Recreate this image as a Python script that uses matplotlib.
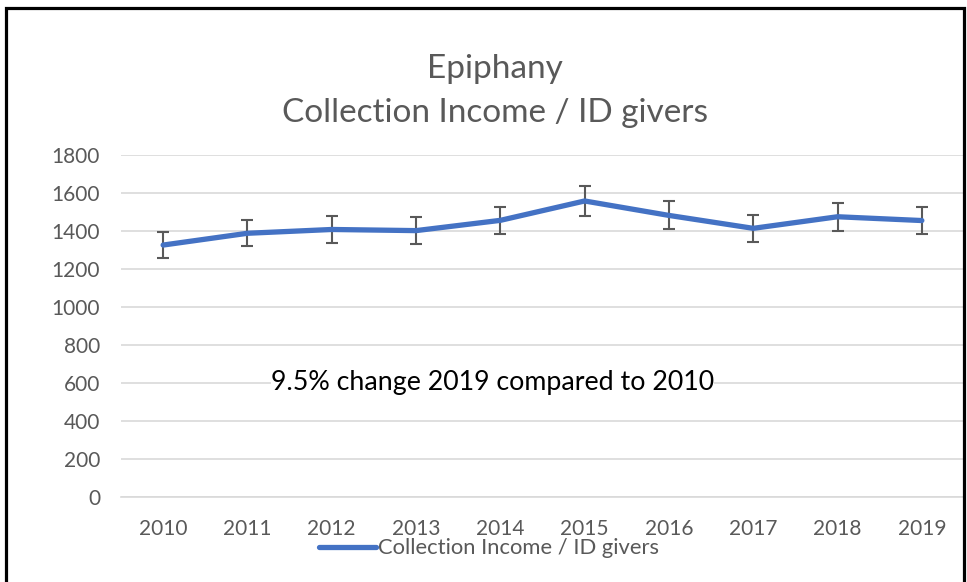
import matplotlib
matplotlib.use("Agg")
from matplotlib import pyplot as plt
from matplotlib.patches import Rectangle
from matplotlib.lines import Line2D

# Epiphany - collection income per identified giver
anos = [2010, 2011, 2012, 2013, 2014, 2015, 2016, 2017, 2018, 2019]
renda_por_doador = [1326, 1388, 1408, 1402, 1456, 1558, 1482, 1414, 1475, 1455]
erro_pct = 0.05
erros = [v * erro_pct for v in renda_por_doador]
serie = 'Collection Income / ID givers'

plt.rcParams['font.family'] = ['Lato', 'DejaVu Sans']
cinza = '#595959'
azul = '#4472C4'

fig = plt.figure(figsize=(9.67, 5.82), dpi=100)
ax = fig.add_axes([0.1251, 0.146, 0.8718, 0.5877])

x = list(range(len(anos)))
ax.errorbar(x, renda_por_doador, yerr=erros, color=azul, linewidth=3.8,
            ecolor=cinza, elinewidth=1.5, capsize=4, capthick=1.5,
            solid_capstyle='round', zorder=3)

ax.set_xlim(-0.5, len(anos) - 0.5)
ax.set_ylim(0, 1800)
ax.set_yticks(range(0, 1801, 200))
ax.set_xticks(x)
ax.set_xticklabels([str(a) for a in anos])
ax.grid(axis='y', color='#D9D9D9', linewidth=1.2)
ax.set_axisbelow(True)
for lado in ['top', 'right', 'left']:
    ax.spines[lado].set_visible(False)
ax.spines['bottom'].set_color('#D9D9D9')
ax.spines['bottom'].set_linewidth(1.2)
ax.tick_params(axis='both', length=0, colors=cinza, labelsize=15)
ax.tick_params(axis='y', pad=15)
ax.tick_params(axis='x', pad=16)

ax.text(0.441, 0.335, '9.5% change 2019 compared to 2010', transform=ax.transAxes,
        ha='center', va='center', fontsize=19.3, color='black',
        bbox=dict(facecolor='white', edgecolor='none', pad=0))

fig.text(0.512, 0.882, 'Epiphany', ha='center', va='center', fontsize=24, color=cinza)
fig.text(0.512, 0.806, serie, ha='center', va='center', fontsize=24, color=cinza)

handle = Line2D([], [], color=azul, linewidth=3.8, solid_capstyle='round')
fig.legend([handle], [serie], loc='center', bbox_to_anchor=(0.506, 0.058), frameon=False,
           fontsize=15.8, handlelength=2.6, handletextpad=0.1, labelcolor=cinza)

# moldura preta em volta da imagem
fig.add_artist(Rectangle((0.0062, -0.05), 0.9907, 1.037, transform=fig.transFigure,
                         fill=False, edgecolor='black', linewidth=2.3, clip_on=False))

fig.savefig('out.png', dpi=100)
